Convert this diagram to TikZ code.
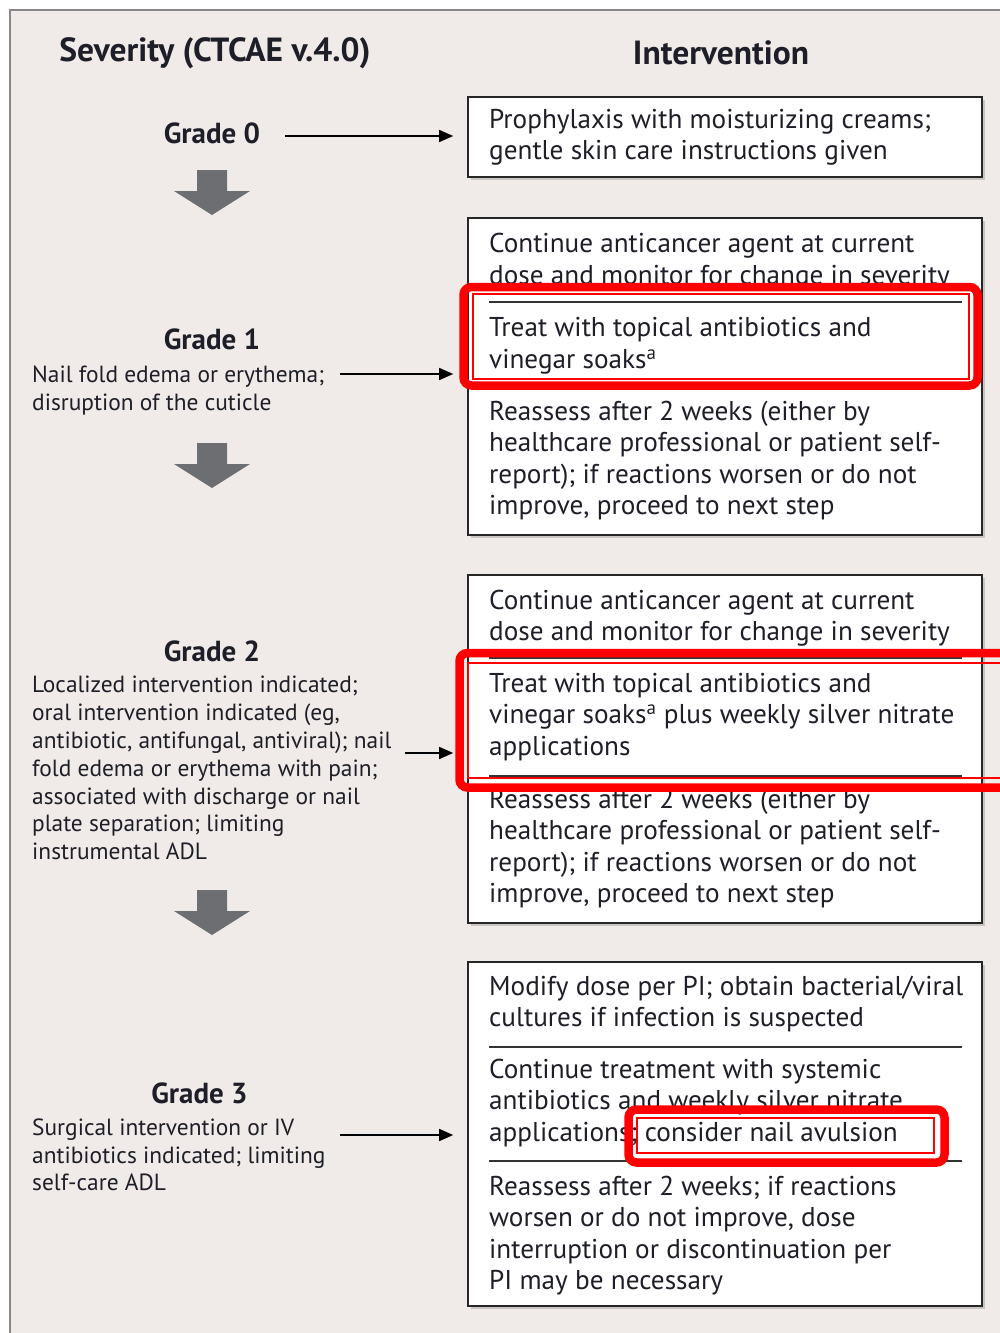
\documentclass[tikz,border=0pt]{standalone}
\usepackage{fontspec}
\setmainfont{PT Sans}
\usetikzlibrary{arrows.meta,shadows,positioning}

\definecolor{panelbg}{RGB}{240,235,232}
\definecolor{framegray}{RGB}{135,135,135}
\definecolor{blockgray}{RGB}{109,110,113}
\definecolor{ink}{RGB}{30,30,40}
\definecolor{hired}{RGB}{255,0,0}

\tikzset{
  box/.style={draw=black!85, line width=1.6pt, fill=white, minimum width=514pt, inner sep=0pt,
    drop shadow={shadow xshift=3pt, shadow yshift=-3pt, opacity=0.35}},
  btext/.style={anchor=north west, inner sep=0pt, align=left, text=ink,
    font=\fontsize{27.2}{31.5}\selectfont, yshift=22.05pt},
  dtext/.style={anchor=north west, inner sep=0pt, align=left, text=ink,
    font=\fontsize{23.4}{27.8}\selectfont, yshift=19.46pt},
  grade/.style={anchor=base, inner sep=0pt, text=ink, font=\fontsize{29}{34}\selectfont\bfseries},
  head/.style={anchor=base, inner sep=0pt, text=ink, font=\fontsize{33.5}{38}\selectfont\bfseries},
  sep/.style={draw=black!80, line width=1.4pt},
  link/.style={-{Triangle[length=14pt,width=12pt]}, line width=1.5pt, shorten >=14pt},
  hl/.style={draw=hired, line width=8.5pt, rounded corners=8pt},
  hlin/.style={draw=hired, line width=2pt}
}

\begin{document}
\begin{tikzpicture}[x=1pt,y=-1pt]
  \useasboundingbox (0,0) rectangle (1000,1333);
  \draw[fill=panelbg, draw=framegray, line width=2.2pt] (10,10) rectangle (1020,1345);

  % headings
  \node[head] (hsev) at (215,61) {Severity (CTCAE v.4.0)};
  \node[head] (hint) at (721,64) {Intervention};

  % severity column
  \node[grade] (g0) at (212,143) {Grade 0};
  \node[grade] (g1) at (212,349) {Grade 1};
  \node[dtext] (d1) at (32,382) {\strut Nail fold edema or erythema;\\disruption of the cuticle};
  \node[grade] (g2) at (212,661) {Grade 2};
  \node[dtext] (d2) at (32,692.7) {\strut Localized intervention indicated;\\oral intervention indicated (eg,\\
    antibiotic, antifungal, antiviral); nail\\fold edema or erythema with pain;\\
    associated with discharge or nail\\plate separation; limiting\\instrumental ADL};
  \node[grade] (g3) at (199.5,1103) {Grade 3};
  \node[dtext] (d3) at (32,1135) {\strut Surgical intervention or IV\\antibiotics indicated; limiting\\self-care ADL};

  \foreach \t in {170,443,890}
    \fill[blockgray] (197,\t) -- (227,\t) -- (227,\t+21) -- (250,\t+21)
      -- (212,\t+45) -- (174,\t+21) -- (197,\t+21) -- cycle;

  % intervention boxes
  \node[box, minimum height=80pt] (b0) at (725,137) {};
  \node[box, minimum height=317pt] (b1) at (725,376.5) {};
  \node[box, minimum height=348pt] (b2) at (725,749) {};
  \node[box, minimum height=344pt] (b3) at (725,1134) {};

  \node[btext] (t0) at (489,128) {\strut Prophylaxis with moisturizing creams;\\gentle skin care instructions given};

  \node[btext] (t1a) at (489,252.5) {\strut Continue anticancer agent at current\\dose and monitor for change in severity};
  \node[btext] (t1b) at (489,336.5) {\strut Treat with topical antibiotics and\\vinegar soaks\textsuperscript{a}};
  \node[btext] (t1c) at (489,420) {\strut Reassess after 2 weeks (either by\\healthcare professional or patient self-\\
    report); if reactions worsen or do not\\improve, proceed to next step};

  \node[btext] (t2a) at (489,609) {\strut Continue anticancer agent at current\\dose and monitor for change in severity};
  \node[btext] (t2b) at (489,692) {\strut Treat with topical antibiotics and\\
    vinegar soaks\textsuperscript{a} plus weekly silver nitrate\\applications};
  \node[btext] (t2c) at (489,808) {\strut Reassess after 2 weeks (either by\\healthcare professional or patient self-\\
    report); if reactions worsen or do not\\improve, proceed to next step};

  \node[btext] (t3a) at (489,995) {\strut Modify dose per PI; obtain bacterial/viral\\cultures if infection is suspected};
  \node[btext] (t3b) at (489,1078) {\strut Continue treatment with systemic\\antibiotics and weekly silver nitrate\\
    applications; consider nail avulsion};
  \node[btext] (t3c) at (489,1195) {\strut Reassess after 2 weeks; if reactions\\worsen or do not improve, dose\\
    interruption or discontinuation per\\PI may be necessary};

  \draw[sep] (489,302) -- (962,302);
  \draw[sep] (489,386) -- (962,386);
  \draw[sep] (489,658) -- (962,658);
  \draw[sep] (489,776) -- (962,776);
  \draw[sep] (489,1047) -- (962,1047);
  \draw[sep] (489,1161) -- (962,1161);

  % links
  \coordinate (a0) at (285,136);
  \coordinate (a1) at (340,374);
  \coordinate (a2) at (405,753);
  \coordinate (a3) at (340,1135);
  \draw[link] (a0) -- (a0 -| b0.west);
  \draw[link] (a1) -- (a1 -| b1.west);
  \draw[link] (a2) -- (a2 -| b2.west);
  \draw[link] (a3) -- (a3 -| b3.west);

  % highlights
  \draw[hl] (463.5,287) rectangle (977.5,385.5);
  \draw[hlin] (472.5,294) rectangle (968.5,379);
  \draw[hl] (459.5,653) rectangle (1014,787.5);
  \draw[hlin] (467.5,662.5) rectangle (1006,778);
  \draw[hl] (628.5,1109.5) rectangle (944.5,1162.5);
  \draw[hlin] (637,1118) rectangle (934,1152.5);
\end{tikzpicture}
\end{document}
